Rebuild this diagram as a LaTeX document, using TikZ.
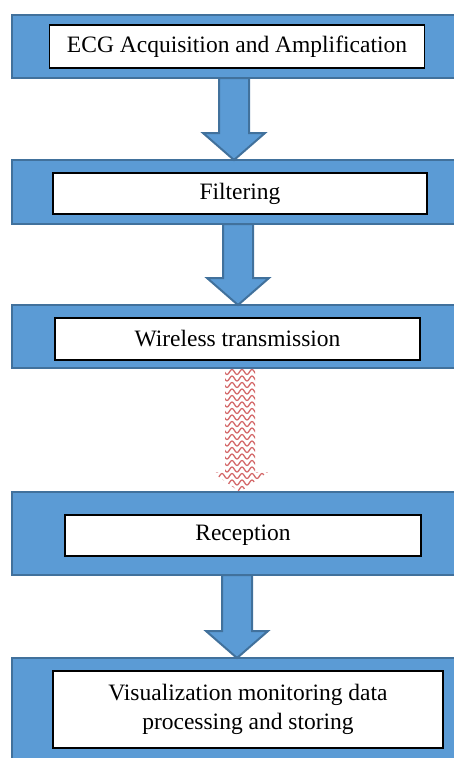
\documentclass[tikz,border=0pt]{standalone}
\usepackage{fontspec}
\setmainfont{Liberation Serif}
\usetikzlibrary{positioning,calc}
\definecolor{barblue}{HTML}{5B9BD5}
\definecolor{bardark}{HTML}{41719C}
\definecolor{wavered}{HTML}{D46A6B}

\begin{document}
\begin{tikzpicture}[
  x=1pt, y=-1pt,
  bar/.style={draw=bardark, line width=2pt, fill=barblue,
              minimum width=450pt, outer sep=0pt, inner sep=0pt},
  stepbox/.style={draw=black, line width=1.3pt, fill=white,
                  font=\fontsize{23.5}{29}\selectfont, align=center,
                  outer sep=0pt, inner sep=0pt},
  blockarrow/.style={draw=bardark, line width=2pt, fill=barblue},
  waves/.style={wavered, line width=1.3pt},
]
\clip (0,0) rectangle (454,758);

%% ---- blue bars ----
\node[bar, minimum height=63pt, anchor=north west] (bar1) at (12,15) {};
\node[bar, minimum height=64pt, below=82pt of bar1] (bar2) {};
\node[bar, minimum height=63pt, below=81pt of bar2] (bar3) {};
\node[bar, minimum height=83pt, below=124pt of bar3] (bar4) {};
\node[bar, minimum height=110pt, below=83pt of bar4] (bar5) {};

%% ---- steps ----
\node[stepbox, minimum width=375pt, minimum height=43pt] (acq) at (bar1.center)
  {ECG Acquisition and Amplification};
\node[stepbox, minimum width=374pt, minimum height=41pt] (filt) at ([xshift=3pt,yshift=-1.5pt]bar2.center)
  {Filtering};
\node[stepbox, minimum width=365pt, minimum height=42pt] (wtx) at ([xshift=0.5pt,yshift=-2.5pt]bar3.center)
  {Wireless transmission};
\node[stepbox, minimum width=356pt, minimum height=41pt] (recep) at ([xshift=6pt,yshift=-2pt]bar4.center)
  {Reception};
\node[stepbox, minimum width=390pt, minimum height=77pt] (visu) at ([xshift=11pt,yshift=3.5pt]bar5.center)
  {Visualization monitoring data\\processing and storing};

%% ---- block arrows ----
\foreach \a/\b/\dx in {bar1/bar2/-3, bar2/bar3/1, bar4/bar5/0}
  \draw[blockarrow] let \p1=([xshift=\dx pt]\a.south), \p2=(\b.north) in
    (\x1-15pt,\y1) -- (\x1-15pt,\y2+27pt) -- (\x1-31pt,\y2+27pt) -- (\x1,\y2)
    -- (\x1+31pt,\y2+27pt) -- (\x1+15pt,\y2+27pt) -- (\x1+15pt,\y1) -- cycle;

%% ---- wireless link (wavy arrow) ----
\begin{scope}
  \clip let \p1=([xshift=3pt]bar3.south), \p2=(bar4.north) in
    (\x1-15pt,\y1) -- (\x1-15pt,\y2+20pt) -- (\x1-28pt,\y2+20pt) -- (\x1,\y2)
    -- (\x1+28pt,\y2+20pt) -- (\x1+15pt,\y2+20pt) -- (\x1+15pt,\y1) -- cycle;
  \foreach \k in {0,...,19}
    \draw[waves] plot[domain=205:275, samples=71, smooth]
      (\x, {372 + 6.5*\k - 2.5*cos(36*(\x-232))});
\end{scope}

\end{tikzpicture}
\end{document}
